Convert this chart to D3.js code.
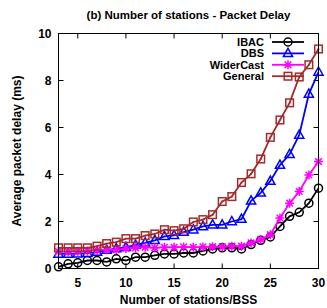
<!DOCTYPE html>
<html><head><meta charset="utf-8">
<script src="https://cdn.jsdelivr.net/npm/d3@7/dist/d3.min.js"></script>
<style>body{margin:0;background:#fff}svg{display:block;font-family:"Liberation Sans",Arial,sans-serif;font-weight:bold}</style>
</head><body>
<script>
const stations = [3,4,5,6,7,8,9,10,11,12,13,14,15,16,17,18,19,20,21,22,23,24,25,26,27,28,29,30];
const ibac      = [0.07,0.20,0.24,0.34,0.34,0.28,0.41,0.34,0.48,0.48,0.56,0.62,0.62,0.66,0.66,0.75,0.83,0.88,0.88,0.83,1.02,1.20,1.34,1.79,2.22,2.39,2.78,3.42];
const dbs       = [0.62,0.62,0.63,0.65,0.70,0.78,0.85,0.90,1.00,1.09,1.20,1.37,1.41,1.55,1.65,1.79,1.86,1.86,2.00,2.10,2.88,3.22,3.72,4.40,4.86,5.68,7.42,8.36];
const widercast = [0.72,0.72,0.73,0.75,0.78,0.80,0.80,0.85,0.88,0.90,0.88,0.90,0.90,0.92,0.90,0.92,0.93,0.92,0.95,0.95,1.09,1.23,1.44,2.15,2.78,3.28,3.98,4.55];
const general   = [0.88,0.88,0.88,0.88,0.95,1.06,1.12,1.27,1.27,1.40,1.47,1.65,1.61,1.69,1.98,2.08,2.29,2.85,3.06,3.66,4.03,4.66,5.58,6.32,7.05,8.15,8.67,9.34];
const seriesNames = ["IBAC","DBS","WiderCast","General"];
const xTicks = [5,10,15,20,25,30];
const yTicks = [0,2,4,6,8,10];

const W=327,H=308;
const m={l:58.5,r:318.5,t:33.5,b:268.5};
const svg=d3.select("body").append("svg").attr("width",W).attr("height",H);
const x=d3.scaleLinear().domain([3,30]).range([m.l,m.r]);
const y=d3.scaleLinear().domain([0,10]).range([m.b,m.t]);

// ticks inward, mirrored
const tl=5;
const g=svg.append("g").attr("stroke","#000").attr("stroke-width",1);
xTicks.forEach(t=>{
  g.append("line").attr("x1",x(t)).attr("x2",x(t)).attr("y1",m.b).attr("y2",m.b-tl);
  g.append("line").attr("x1",x(t)).attr("x2",x(t)).attr("y1",m.t).attr("y2",m.t+tl);
});
yTicks.forEach(t=>{
  g.append("line").attr("x1",m.l).attr("x2",m.l+tl).attr("y1",y(t)).attr("y2",y(t));
  g.append("line").attr("x1",m.r).attr("x2",m.r-tl).attr("y1",y(t)).attr("y2",y(t));
});
svg.selectAll(".xt").data(xTicks).join("text").attr("x",d=>x(d)).attr("y",m.b+18)
  .attr("text-anchor","middle").attr("font-size",12).text(d=>d);
svg.selectAll(".yt").data(yTicks).join("text").attr("x",m.l-7).attr("y",d=>y(d)+4)
  .attr("text-anchor","end").attr("font-size",12).text(d=>d);

svg.append("text").attr("x",(m.l+m.r)/2).attr("y",19).attr("text-anchor","middle")
  .attr("font-size",11.5).text("(b) Number of stations - Packet Delay");
svg.append("text").attr("x",(m.l+m.r)/2).attr("y",304).attr("text-anchor","middle")
  .attr("font-size",12).text("Number of stations/BSS");
svg.append("text").attr("transform",`translate(21,${(m.t+m.b)/2}) rotate(-90)`).attr("text-anchor","middle")
  .attr("font-size",12).text("Average packet delay (ms)");

const colors=["#000000","#0000ff","#ff00ff","#a52a2a"];
const data=[ibac,dbs,widercast,general];

function marker(sel,i,c){
  if(i===0){
    sel.append("circle").attr("r",4).attr("fill","none").attr("stroke",c).attr("stroke-width",1.5);
  }else if(i===1){
    sel.append("path").attr("d","M0,-5L4.6,3.2L-4.6,3.2Z").attr("fill","none").attr("stroke",c).attr("stroke-width",1.5);
  }else if(i===2){
    sel.append("path").attr("d","M-4.5,0H4.5M0,-4.5V4.5M-3.3,-3.3L3.3,3.3M-3.3,3.3L3.3,-3.3").attr("stroke",c).attr("stroke-width",1.5);
  }else{
    sel.append("rect").attr("x",-3.8).attr("y",-3.8).attr("width",7.6).attr("height",7.6).attr("fill","none").attr("stroke",c).attr("stroke-width",1.5);
    sel.append("rect").attr("x",-0.8).attr("y",-0.8).attr("width",1.6).attr("height",1.6).attr("fill",c);
  }
}

const line=d3.line().x((d,i)=>x(stations[i])).y(d=>y(d));
data.forEach((vals,i)=>{
  const c=colors[i];
  svg.append("path").datum(vals).attr("d",line).attr("fill","none").attr("stroke",c).attr("stroke-width",1.8);
  vals.forEach((v,j)=>{
    const gg=svg.append("g").attr("transform",`translate(${x(stations[j])},${y(v)})`);
    marker(gg,i,c);
  });
});

// legend
seriesNames.forEach((n,i)=>{
  const ly=42+i*11.4;
  svg.append("text").attr("x",264).attr("y",ly+4).attr("text-anchor","end").attr("font-size",11).text(n);
  svg.append("line").attr("x1",272).attr("x2",304).attr("y1",ly).attr("y2",ly).attr("stroke",colors[i]).attr("stroke-width",1.8);
  const gg=svg.append("g").attr("transform",`translate(288,${ly})`);
  marker(gg,i,colors[i]);
});

svg.append("rect").attr("x",m.l).attr("y",m.t).attr("width",m.r-m.l).attr("height",m.b-m.t)
  .attr("fill","none").attr("stroke","#000").attr("stroke-width",1);
</script>
</body></html>
